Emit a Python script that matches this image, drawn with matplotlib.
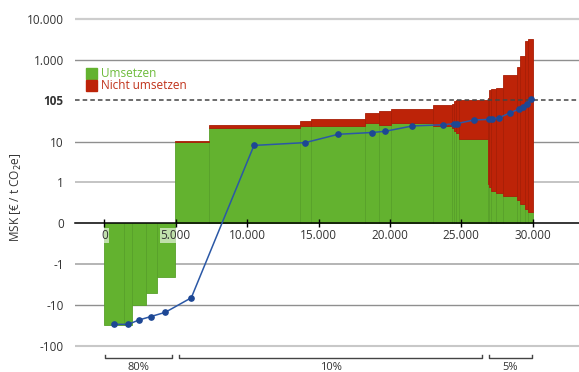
import matplotlib
matplotlib.use("Agg")
import numpy as np
import matplotlib.pyplot as plt
from matplotlib.ticker import FixedLocator, FixedFormatter
from matplotlib.transforms import blended_transform_factory
from matplotlib.patches import Rectangle

plt.rcParams["font.family"] = ["Open Sans", "DejaVu Sans"]

# Abatement potential of each measure [t CO2e], in order of cost
potential = [1400, 560, 960, 740, 1290, 2360, 6415, 750, 3765, 1020, 820,
             2960, 1330, 140, 120, 230, 1980, 120, 150, 330, 500, 940,
             260, 310, 200, 350]
# Cost when implemented ("Umsetzen") [EUR / t CO2e]
cost_umsetzen = [-31, -31, -10, -5.2, -2.1, 9.7, 22, 24.6, 24.3, 28, 26,
                 29.3, 24.3, 21.3, 18.2, 16, 11.4, 0.97, 0.88, 0.78, 0.74,
                 0.68, 0.57, 0.48, 0.36, 0.28]
# Cost when not implemented ("Nicht umsetzen") [EUR / t CO2e]
cost_nicht = [-31, -31, -10, -5.2, -2.1, 10.4, 26, 32, 36, 51, 57, 62, 79,
              84, 98, 105, 105, 115, 180, 195, 210, 430, 690, 1260, 2970,
              3300]

# Average cost curve
avg_x = [700, 1680, 2430, 3245, 4270, 6090, 10480, 14080, 16380, 18760,
         19680, 21570, 23720, 24490, 24720, 25870, 26960, 27130, 27640,
         28410, 29040, 29320, 29580, 29860]
avg_y = [-30, -30, -23.4, -19.4, -15.2, -6.7, 8.1, 9.5, 15.2, 16.8, 18,
         24.3, 26, 27.6, 27.9, 34, 35.3, 36, 38.6, 51, 63, 70, 84, 109]

# Shares of total potential
group_edges = [0, 5000, 26700, 30000]
group_labels = ["80%", "10%", "5%"]

threshold = 105
x_ticks = [0, 5000, 10000, 15000, 20000, 25000, 30000]
y_ticks = [-100, -10, -1, 0, 1, 10, threshold, 1000, 10000]
y_tick_labels = ["-100", "-10", "-1", "0", "1", "10", "105", "1.000", "10.000"]

GREEN = "#63b22f"
GREEN_EDGE = "#58a02a"
RED = "#bd2308"
RED_EDGE = "#a81e06"
BLUE = "#2b58a6"
DOT = "#1d4794"
TXT = "#333333"

W, H = 579, 372
fig = plt.figure(figsize=(W / 100, H / 100), dpi=100)
ax = fig.add_axes([75 / W, 0, 504 / W, 1])

ax.set_yscale("symlog", linthresh=1, linscale=0.9, base=10)
ax.set_xlim(-2052, 33240)
ax.set_ylim(-441.6, 29717)

left = np.concatenate([[0], np.cumsum(potential)[:-1]])
g = np.array(cost_umsetzen, dtype=float)
t = np.array(cost_nicht, dtype=float)

# green part: implemented cost
ax.bar(left, g, width=potential, align="edge", color=GREEN,
       edgecolor=GREEN_EDGE, linewidth=0.6, zorder=3)
# red part: additional cost when not implemented
extra = np.where(t > g, t - g, 0)
mask = extra > 0
ax.bar(left[mask], extra[mask], bottom=g[mask], width=np.array(potential)[mask],
       align="edge", color=RED, edgecolor=RED_EDGE, linewidth=0.6, zorder=3)

# horizontal guide lines
grid_style = {
    10000: ("#cdcdcd", 1.6), 1000: ("#8f8f8f", 1.0), 10: ("#8f8f8f", 1.0),
    1: ("#c4c4c4", 1.4), -1: ("#a8a8a8", 1.2), -10: ("#8f8f8f", 1.0),
    -100: ("#c8c8c8", 1.5),
}
for v, (c, lw) in grid_style.items():
    ax.axhline(v, color=c, lw=lw, zorder=1)
ax.axhline(threshold, color="#444444", lw=1.1, ls=(0, (3, 2)), zorder=4)

# average cost line
ax.plot(avg_x, avg_y, color=BLUE, lw=1.1, zorder=5)
ax.plot(avg_x, avg_y, ls="none", marker="o", ms=3.8, color=DOT, zorder=6)

# axes styling
for s in ["top", "right", "left"]:
    ax.spines[s].set_visible(False)
ax.spines["bottom"].set_position(("data", 0))
ax.spines["bottom"].set_color("black")
ax.spines["bottom"].set_linewidth(1.1)
ax.spines["bottom"].set_zorder(4)
ax.xaxis.set_zorder(7)
ax.xaxis.set_major_locator(FixedLocator(x_ticks))
ax.xaxis.set_major_formatter(FixedFormatter(
    [f"{v:,}".replace(",", ".") for v in x_ticks]))
ax.tick_params(axis="x", direction="inout", length=6, width=1, color="black",
               labelsize=8.5, labelcolor=TXT, pad=1)
for lab in ax.get_xticklabels():
    lab.set_bbox(dict(facecolor="white", alpha=0.6, edgecolor="none", pad=0.8))

ax.yaxis.set_major_locator(FixedLocator(y_ticks))
ax.yaxis.set_major_formatter(FixedFormatter(y_tick_labels))
ax.yaxis.set_minor_locator(FixedLocator([]))
ax.tick_params(axis="y", length=0, labelsize=8.5, labelcolor=TXT, pad=8)
for lab in ax.get_yticklabels():
    if lab.get_text() == "105":
        lab.set_fontweight("bold")

fig.text(16 / W, 1 - 197 / H, "MSK [€ / t CO$_2$e]", rotation=90,
         ha="center", va="center", fontsize=8.5, color=TXT)

# legend
fig.patches.append(Rectangle((86 / W, 1 - 79 / H), 10.7 / W, 10.7 / H,
                             transform=fig.transFigure, color=GREEN))
fig.patches.append(Rectangle((86 / W, 1 - 91 / H), 10.7 / W, 10.7 / H,
                             transform=fig.transFigure, color=RED))
fig.text(101 / W, 1 - 73.5 / H, "Umsetzen", color="#6dbb3a", fontsize=8.5,
         va="center", ha="left")
fig.text(101 / W, 1 - 85.5 / H, "Nicht umsetzen", color="#c0321a",
         fontsize=8.5, va="center", ha="left")

# group brackets under the axis
trans = blended_transform_factory(ax.transData, ax.transAxes)
yb = 1 - 358 / H
tick_h = 3 / H
n = len(group_labels)
for i in range(n):
    a = group_edges[i] + (50 if i == 0 else 230)
    b = group_edges[i + 1] - (70 if i == n - 1 else 230)
    ax.plot([a, a, b, b], [yb + tick_h, yb, yb, yb + tick_h], color="#444444",
            lw=1, transform=trans, clip_on=False, zorder=5)
    ax.text((a + b) / 2, 1 - 369.5 / H, group_labels[i], transform=trans,
            ha="center", va="baseline", fontsize=8, color=TXT)

fig.savefig("out.png", dpi=100)
